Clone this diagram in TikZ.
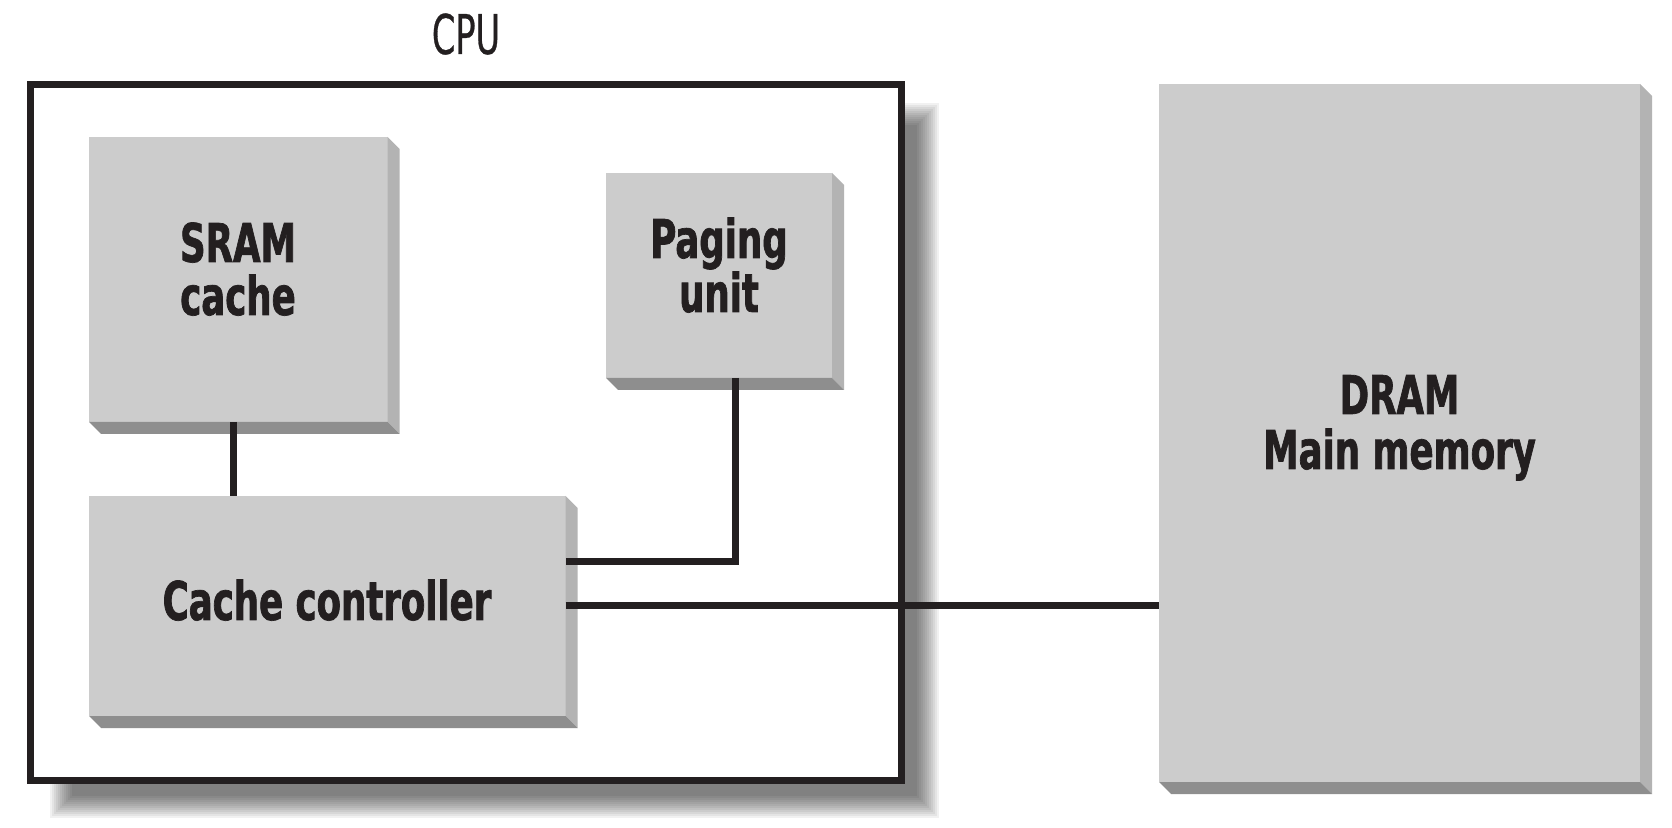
\documentclass[tikz,border=0pt]{standalone}
\usepackage{fontspec}
\newfontfamily\lblfont{DejaVu Sans Condensed}[FakeStretch=0.74, BoldFeatures={FakeBold=1.3}]
\newfontfamily\cpufont{DejaVu Sans Condensed}[FakeStretch=0.68, FakeBold=0.5]
\usetikzlibrary{calc}
\definecolor{ink}{HTML}{231F20}
\definecolor{front}{HTML}{CCCCCC}
\definecolor{sideR}{HTML}{B3B3B3}
\definecolor{sideB}{HTML}{8E8E8E}
\tikzset{
  blk/.style={fill=front, draw=none, inner sep=0pt, outer sep=0pt, anchor=north west},
  lbl/.style={font={\lblfont\bfseries\fontsize{26.7pt}{27pt}\selectfont}, text=ink, inner sep=0pt, anchor=base},
  conn/.style={draw=ink, line width=3.5pt},
  cpubox/.style={draw=ink, fill=white, line width=3.6pt, inner sep=0pt, outer sep=0pt, anchor=north west}
}
\newcommand\slabsides[1]{%
  \fill[sideR] (#1.north east) -- ++(12,12) -- ($(#1.south east)+(12,12)$) -- (#1.south east) -- cycle;
  \fill[sideB] (#1.south west) -- ++(12,12) -- ($(#1.south east)+(12,12)$) -- (#1.south east) -- cycle;
}
\begin{document}
\begin{tikzpicture}[x=0.5pt, y=-0.5pt]
\useasboundingbox (0,0) rectangle (1672,828);
% shadow of the CPU box
\foreach \i in {0,...,11}{
  \fill[black, opacity=0.056] ($(72,125)-(2*\i,2*\i)$) rectangle ($(917,796)+(2*\i,2*\i)$);
}
% CPU box
\node[cpubox, minimum width=435.5pt, minimum height=348pt] (cpu) at (30.5,84.5) {};
\node[font={\cpufont\fontsize{27.4pt}{28pt}\selectfont}, text=ink, inner sep=0pt, anchor=base] (cpulbl) at (466,54) {CPU};
% blocks
\node[blk, minimum width=149.25pt, minimum height=142.5pt] (sram) at (89,137) {};
\slabsides{sram}
\node[blk, minimum width=113pt, minimum height=102.5pt] (paging) at (606,173) {};
\slabsides{paging}
\node[blk, minimum width=238.25pt, minimum height=110pt] (cache) at (89,496) {};
\slabsides{cache}
\node[blk, minimum width=240.5pt, minimum height=349pt] (dram) at (1159,84) {};
\slabsides{dram}
% connectors
\draw[conn] ([xshift=-2.6pt]sram.south) -- ([xshift=-2.6pt]sram.south |- cache.north);
\draw[conn] ([xshift=8pt]paging.south) |- ([yshift=22pt]cache.east);
\draw[conn] (cache.east) -- (dram.west |- cache.east);
% labels
\node[lbl] (sramA) at (238,262) {SRAM};
\node[lbl] (sramB) at (238,315) {cache};
\node[lbl] (pagA) at (719,258) {Paging};
\node[lbl] (pagB) at (719,312) {unit};
\node[lbl] (cacheA) at (327,620) {Cache controller};
\node[lbl] (dramA) at (1399.5,414) {DRAM};
\node[lbl] (dramB) at (1399.5,469) {Main memory};
\end{tikzpicture}
\end{document}
